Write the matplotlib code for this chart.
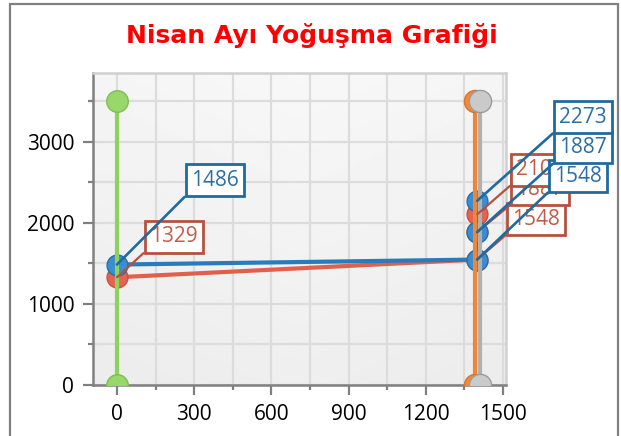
import numpy as np
import matplotlib
matplotlib.use("Agg")
import matplotlib.pyplot as plt
from matplotlib.patches import Rectangle
from matplotlib.ticker import MultipleLocator

# data
title = "Nisan Ayı Yoğuşma Grafiği"

blue_x = [0, 1400, 1400, 1400]
blue_y = [1486, 1548, 1887, 2273]
red_x = [0, 1400, 1400, 1400]
red_y = [1329, 1548, 1887, 2105]
green_x = [0, 0]
green_y = [0, 3500]
orange_x = [1393, 1393]
orange_y = [0, 3500]
gray_x = [1410, 1410]
gray_y = [0, 3500]

# label offsets (pixels) of each label from its point
blue_offsets = [(74, 74), (77, 73), (82, 74), (82, 73)]
red_offsets = [(33, 30), (35, 30), (39, 32), (39, 34)]

plt.rcParams['font.family'] = ['Open Sans', 'DejaVu Sans']

fig = plt.figure(figsize=(6.21, 4.36), dpi=100)
ax = fig.add_axes([93 / 621, 1 - 385 / 436, 413 / 621, 312 / 436])

ax.set_xlim(-93, 1512)
ax.set_ylim(0, 3850)

# soft background, a bit darker towards the bottom
gy, gx = np.mgrid[0:1:200j, -1:1:200j]
shade = 0.97 - 0.035 * gy - 0.01 * np.abs(gx)
ax.imshow(shade, cmap='gray', vmin=0, vmax=1, extent=[0, 1, 0, 1],
          transform=ax.transAxes, aspect='auto', zorder=0)

ax.xaxis.set_major_locator(MultipleLocator(300))
ax.xaxis.set_minor_locator(MultipleLocator(150))
ax.yaxis.set_major_locator(MultipleLocator(1000))
ax.yaxis.set_minor_locator(MultipleLocator(500))
ax.grid(True, which='both', color='#dcdcdc', lw=1.6, zorder=1)
ax.set_axisbelow(True)

ax.tick_params(which='major', length=7.5, width=1.6, color='#808080',
               labelsize=15, pad=6)
ax.tick_params(which='minor', length=3.5, width=1.6, color='#808080')
for side in ['left', 'bottom']:
    ax.spines[side].set_color('#808080')
    ax.spines[side].set_linewidth(1.8)
for side in ['top', 'right']:
    ax.spines[side].set_color('#d0d0d0')
    ax.spines[side].set_linewidth(1.8)

ax.plot(red_x, red_y, color='#e0604c', lw=3, marker='o', ms=15,
        mfc='#e4654f', mec='#c9513d', mew=1, zorder=3)
ax.plot(blue_x, blue_y, color='#2b7bba', lw=3, marker='o', ms=15,
        mfc='#3a8dd2', mec='#2a6ea8', mew=1, zorder=3.2)
ax.plot(green_x, green_y, color='#8cd25c', lw=3, marker='o', ms=15.5,
        mfc='#98d86a', mec='#7cbf50', mew=1, zorder=3.4)
ax.plot(orange_x, orange_y, color='#ee8636', lw=3, marker='o', ms=16,
        mfc='#f08a3c', mec='#d8762c', mew=1, zorder=3.5)
ax.plot(gray_x, gray_y, color='#b0b0b0', lw=3, marker='o', ms=16,
        mfc='#cacaca', mec='#9c9c9c', mew=1, zorder=3.6)


def label(x, y, val, off, edge, txt, lw, z):
    ax.annotate(str(val), xy=(x, y), xytext=off, textcoords='offset pixels',
                ha='left', va='bottom', fontsize=15, color=txt, zorder=z,
                annotation_clip=False,
                bbox=dict(boxstyle='square,pad=0.26', fc='white', ec=edge, lw=2),
                arrowprops=dict(arrowstyle='-', color=edge, lw=lw,
                                relpos=(0, 0), shrinkA=0, shrinkB=0))


for x, y, off in zip(red_x, red_y, red_offsets):
    label(x, y, y, off, '#b5523f', '#c25b47', 1.6, 5)
for x, y, off in zip(blue_x, blue_y, blue_offsets):
    label(x, y, y, off, '#1f6a9f', '#2b6ea5', 1.9, 6)

fig.text(312 / 621, 1 - 36 / 436, title, ha='center', va='center',
         fontsize=18, fontweight='bold', color='#ff0000', family='DejaVu Sans')

fig.patches.append(Rectangle((9.5 / 621, -0.1), 608 / 621, 1.1 - 4.5 / 436,
                             transform=fig.transFigure, fill=False,
                             ec='#808080', lw=1.6))

fig.savefig("out.png", dpi=100)
